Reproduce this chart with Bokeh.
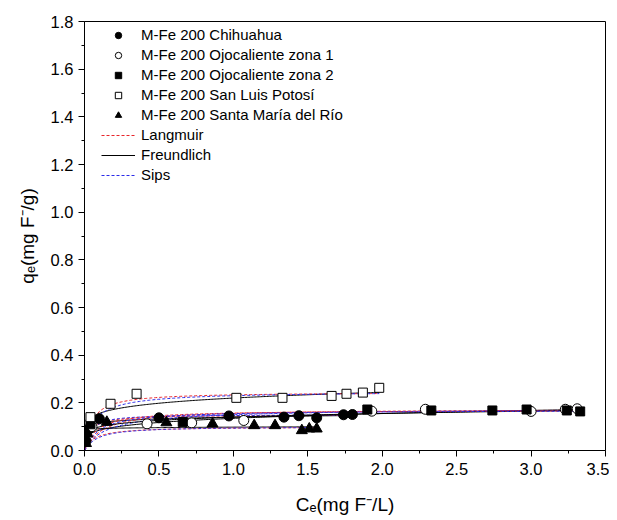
import numpy as np
from bokeh.plotting import figure
from bokeh.models import FixedTicker, Legend, LegendItem, NumeralTickFormatter, Range1d
from bokeh.embed import file_html
from bokeh.resources import INLINE

FONT = "Liberation Sans"

# ---- data ----
chi_x = [0.01, 0.03, 0.10, 0.50, 0.97, 1.34, 1.44, 1.56, 1.74, 1.80]
chi_y = [0.04, 0.09, 0.133, 0.137, 0.145, 0.140, 0.146, 0.137, 0.150, 0.151]

oc1_x = [0.05, 0.42, 0.72, 1.07, 1.93, 2.29, 3.00, 3.23, 3.31]
oc1_y = [0.10, 0.112, 0.116, 0.126, 0.165, 0.173, 0.164, 0.173, 0.175]

oc2_x = [0.04, 0.66, 1.90, 2.33, 2.74, 2.97, 3.24, 3.33]
oc2_y = [0.11, 0.12, 0.172, 0.168, 0.168, 0.172, 0.168, 0.164]

slp_x = [0.04, 0.175, 0.35, 1.02, 1.33, 1.66, 1.76, 1.87, 1.98]
slp_y = [0.140, 0.196, 0.238, 0.221, 0.221, 0.229, 0.238, 0.243, 0.263]

smr_x = [0.01, 0.02, 0.15, 0.55, 0.86, 1.14, 1.28, 1.46, 1.51, 1.56]
smr_y = [0.03, 0.07, 0.119, 0.117, 0.112, 0.105, 0.105, 0.084, 0.091, 0.091]

series_names = ["M-Fe 200 Chihuahua", "M-Fe 200 Ojocaliente zona 1",
                "M-Fe 200 Ojocaliente zona 2", "M-Fe 200 San Luis Potosí",
                "M-Fe 200 Santa María del Río"]

# model parameters (estimated): Langmuir (qm, K), Freundlich (Kf, 1/n), Sips (qm, K, n)
lang_qm = [0.150, 0.175, 0.170, 0.245, 0.100]
lang_K = [30.0, 8.0, 12.0, 20.0, 15.0]
freu_kf = [0.140, 0.135, 0.140, 0.220, 0.098]
freu_n = [0.08, 0.20, 0.15, 0.15, 0.03]
sips_qm = [0.150, 0.180, 0.170, 0.250, 0.100]
sips_K = [25.0, 6.0, 10.0, 15.0, 12.0]
sips_n = [1.2, 0.9, 1.0, 0.9, 1.1]
cmax = [1.80, 3.31, 3.33, 1.98, 1.56]

x_ticks = [0.0, 0.5, 1.0, 1.5, 2.0, 2.5, 3.0, 3.5]
y_ticks = [0.0, 0.2, 0.4, 0.6, 0.8, 1.0, 1.2, 1.4, 1.6, 1.8]

p = figure(frame_width=521, frame_height=429, output_backend="svg", toolbar_location=None,
           x_range=Range1d(0, 3.5), y_range=Range1d(0, 1.8),
           min_border_left=84, min_border_right=4, min_border_top=21, min_border_bottom=62)
p.background_fill_color = "white"
p.border_fill_color = "white"
p.grid.visible = False
p.outline_line_color = "black"
p.outline_line_width = 1

for ax, ticks in ((p.xaxis[0], x_ticks), (p.yaxis[0], y_ticks)):
    ax.ticker = FixedTicker(ticks=ticks,
                            minor_ticks=[t + (ticks[1] - ticks[0]) / 2 for t in ticks[:-1]])
    ax.formatter = NumeralTickFormatter(format="0.0")
    ax.major_tick_out = 6
    ax.major_tick_in = 0
    ax.minor_tick_out = 3
    ax.minor_tick_in = 0
    ax.axis_line_color = "black"
    ax.major_tick_line_color = "black"
    ax.minor_tick_line_color = "black"
    ax.major_label_text_font = FONT
    ax.major_label_text_font_size = "16.5px"
    ax.major_label_text_color = "black"
    ax.axis_label_text_font = FONT
    ax.axis_label_text_font_size = "19px"
    ax.axis_label_text_font_style = "normal"
    ax.axis_label_text_color = "black"
p.xaxis[0].major_label_standoff = 6
p.yaxis[0].major_label_standoff = 5
p.xaxis[0].axis_label = "Cₑ(mg F⁻/L)"
p.yaxis[0].axis_label = "qₑ(mg F⁻/g)"
p.xaxis[0].axis_label_standoff = 16
p.yaxis[0].axis_label_standoff = 10

# fitted curves
lang_r, freu_r, sips_r = [], [], []
for i in range(5):
    c = np.linspace(0.0, cmax[i], 200)
    ql = lang_qm[i] * lang_K[i] * c / (1 + lang_K[i] * c)
    qf = freu_kf[i] * np.power(c, freu_n[i])
    kc = np.power(sips_K[i] * c, sips_n[i])
    qs = sips_qm[i] * kc / (1 + kc)
    freu_r.append(p.line(c, qf, line_color="black", line_width=1))
    lang_r.append(p.line(c, ql, line_color="#e8242a", line_width=1, line_dash="3 2"))
    sips_r.append(p.line(c, qs, line_color="#2a2ae8", line_width=1, line_dash="3 2"))

ms = 10
r_chi = p.scatter(chi_x, chi_y, marker="circle", size=ms, fill_color="black", line_color="black")
r_oc1 = p.scatter(oc1_x, oc1_y, marker="circle", size=ms, fill_color="white", line_color="black")
r_oc2 = p.scatter(oc2_x, oc2_y, marker="square", size=ms - 1, fill_color="black", line_color="black")
r_slp = p.scatter(slp_x, slp_y, marker="square", size=ms - 1, fill_color="white", line_color="black")
r_smr = p.scatter(smr_x, smr_y, marker="triangle", size=ms + 1, fill_color="black", line_color="black")

items = [LegendItem(label=series_names[0], renderers=[r_chi]),
         LegendItem(label=series_names[1], renderers=[r_oc1]),
         LegendItem(label=series_names[2], renderers=[r_oc2]),
         LegendItem(label=series_names[3], renderers=[r_slp]),
         LegendItem(label=series_names[4], renderers=[r_smr]),
         LegendItem(label="Langmuir", renderers=[lang_r[0]]),
         LegendItem(label="Freundlich", renderers=[freu_r[0]]),
         LegendItem(label="Sips", renderers=[sips_r[0]])]
legend = Legend(items=items, border_line_color=None,
                background_fill_alpha=0, label_text_font=FONT, label_text_font_size="15px",
                label_text_color="black", glyph_width=34, glyph_height=16, label_height=16,
                spacing=3, padding=0, margin=0, label_standoff=6)
p.add_layout(legend)
legend.location = (17, 267)

open("out.html", "w").write(file_html(p, INLINE))
